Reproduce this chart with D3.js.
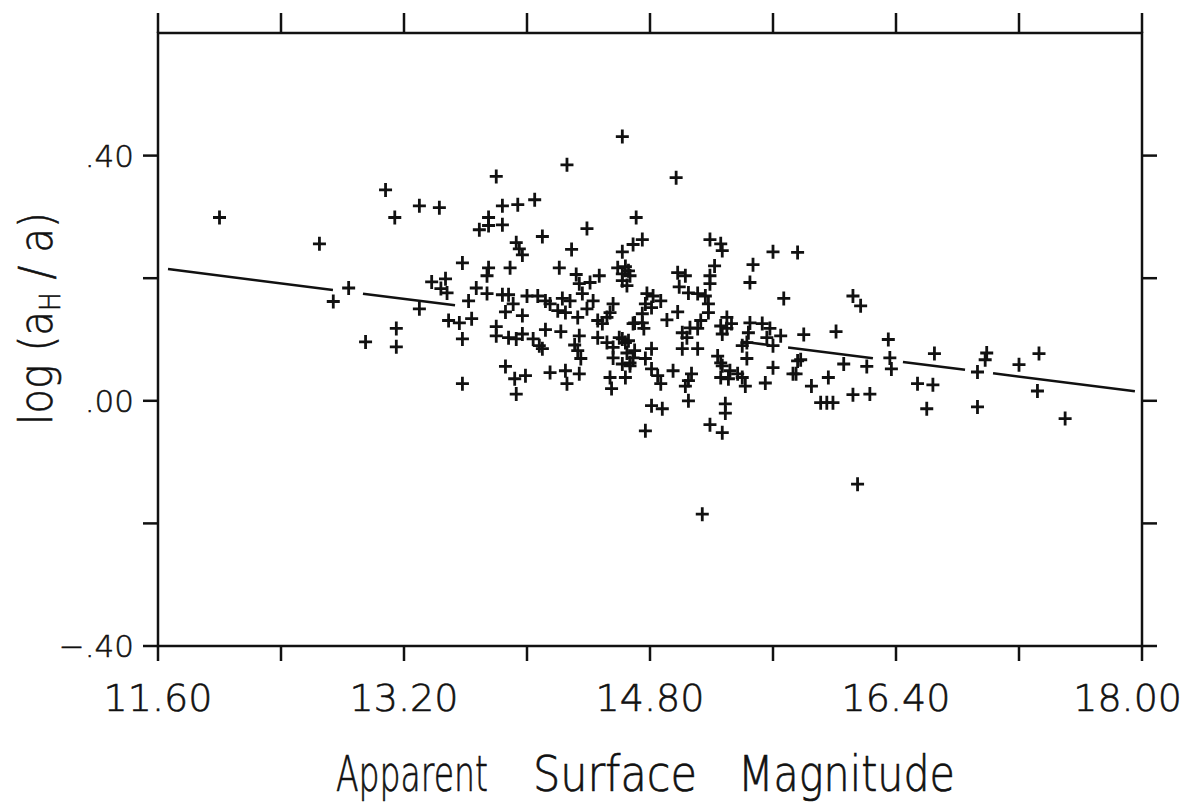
<!DOCTYPE html>
<html>
<head>
<meta charset="utf-8">
<script src="https://cdn.jsdelivr.net/npm/d3@7"></script>
<style>
  body { margin: 0; background: #fff; }
  svg text { font-family: "DejaVu Sans", sans-serif; font-weight: 200; fill: #111; }
</style>
</head>
<body>
<svg id="chart" width="1190" height="803"></svg>
<script>
// apparent surface magnitude (x) and log(aH/a) (y)
const magnitude = [
  12.00, 12.65, 12.74, 12.84, 12.95, 13.08, 13.14, 13.15, 13.15, 13.30,
  13.43, 13.30, 13.38, 13.44, 13.47, 13.48, 13.49, 13.56, 13.64, 13.58,
  13.58, 13.58, 13.62, 13.67, 13.69, 13.75, 13.75, 13.75, 13.74, 13.74,
  13.80, 13.84, 13.84, 13.84, 13.88, 13.94, 14.05, 13.93, 13.95, 13.97,
  13.89, 14.10, 13.91, 13.86, 13.97, 14.00, 14.07, 14.12, 14.15, 14.20,
  14.25, 14.23, 14.28, 13.80, 13.80, 13.88, 13.93, 13.97, 14.04, 14.08,
  14.10, 14.12, 14.22, 13.86, 13.92, 13.99, 13.93, 14.15, 14.25, 14.26,
  14.34, 14.21, 14.26, 14.29, 14.32, 14.34, 14.36, 14.41, 14.47, 14.39,
  14.43, 14.39, 14.33, 14.34, 14.31, 14.33, 14.35, 14.46, 14.52, 14.56,
  14.60, 14.64, 14.65, 14.69, 14.67, 14.56, 14.54, 14.64, 14.55, 14.56,
  14.54, 14.52, 14.49, 14.46, 14.69, 14.62, 14.71, 14.62, 14.69, 14.75,
  14.59, 14.64, 14.66, 14.67, 14.62, 14.65, 14.62, 14.97, 15.19, 15.26,
  15.27, 15.60, 15.76, 15.47, 15.22, 14.98, 15.03, 15.19, 15.19, 15.45,
  14.99, 15.67, 15.05, 15.11, 15.16, 15.18, 15.18, 14.78, 14.82, 14.87,
  14.77, 14.81, 14.75, 14.75, 14.70, 14.76, 14.98, 14.91, 15.13, 15.11,
  15.06, 15.01, 15.04, 15.01, 15.11, 15.30, 15.33, 15.30, 15.26, 15.27,
  15.45, 15.44, 15.53, 15.58, 15.56, 15.65, 15.43, 15.40, 15.60, 15.43,
  15.24, 15.26, 15.27, 15.32, 15.37, 15.40, 15.42, 15.26, 15.31, 15.60,
  15.55, 15.73, 15.76, 14.62, 14.66, 14.70, 14.62, 14.67, 14.77, 14.81,
  14.81, 14.85, 14.87, 14.95, 15.07, 15.05, 15.03, 14.81, 14.88, 15.05,
  15.29, 15.29, 14.77, 15.19, 15.27, 16.15, 15.14, 15.91, 15.95, 15.99,
  16.12, 16.17, 15.80, 16.01, 16.35, 15.78, 16.06, 16.21, 16.36, 16.37,
  16.65, 16.99, 16.98, 16.93, 16.64, 16.60, 16.93, 17.20, 17.33, 17.32,
  17.50, 15.75, 15.96, 16.54, 16.12, 16.23, 15.85
];
const logRatio = [
  0.299, 0.256, 0.162, 0.184, 0.096, 0.344, 0.299, 0.118, 0.088, 0.318,
  0.315, 0.150, 0.194, 0.183, 0.199, 0.176, 0.131, 0.127, 0.134, 0.225,
  0.101, 0.028, 0.163, 0.184, 0.279, 0.286, 0.299, 0.217, 0.204, 0.175,
  0.366, 0.318, 0.287, 0.173, 0.173, 0.320, 0.328, 0.258, 0.248, 0.238,
  0.217, 0.268, 0.158, 0.145, 0.139, 0.171, 0.171, 0.163, 0.158, 0.147,
  0.144, 0.167, 0.163, 0.121, 0.106, 0.103, 0.101, 0.109, 0.101, 0.090,
  0.085, 0.116, 0.113, 0.056, 0.036, 0.041, 0.011, 0.046, 0.049, 0.028,
  0.044, 0.217, 0.385, 0.247, 0.206, 0.191, 0.175, 0.193, 0.204, 0.281,
  0.163, 0.150, 0.136, 0.106, 0.091, 0.082, 0.069, 0.103, 0.095, 0.087,
  0.103, 0.095, 0.078, 0.070, 0.062, 0.070, 0.038, 0.038, 0.020, 0.158,
  0.144, 0.136, 0.126, 0.131, 0.126, 0.431, 0.299, 0.243, 0.255, 0.263,
  0.217, 0.219, 0.212, 0.204, 0.196, 0.188, 0.207, 0.364, 0.263, 0.256,
  0.245, 0.243, 0.242, 0.222, 0.220, 0.209, 0.204, 0.204, 0.191, 0.193,
  0.186, 0.167, 0.176, 0.175, 0.171, 0.158, 0.144, 0.175, 0.171, 0.163,
  0.158, 0.152, 0.142, 0.127, 0.127, 0.118, 0.145, 0.132, 0.131, 0.118,
  0.119, 0.111, 0.103, 0.085, 0.085, 0.136, 0.126, 0.118, 0.122, 0.109,
  0.127, 0.111, 0.126, 0.118, 0.103, 0.106, 0.095, 0.090, 0.090, 0.069,
  0.073, 0.062, 0.057, 0.049, 0.044, 0.038, 0.024, 0.038, 0.036, 0.054,
  0.029, 0.044, 0.065, 0.101, 0.098, 0.082, 0.060, 0.057, 0.069, 0.085,
  0.052, 0.041, 0.028, 0.049, 0.044, 0.033, 0.024, -0.008, -0.013, 0.000,
  -0.005, -0.020, -0.049, -0.039, -0.052, -0.136, -0.185, -0.003, -0.003, -0.003,
  0.171, 0.155, 0.108, 0.113, 0.100, 0.067, 0.060, 0.056, 0.070, 0.052,
  0.077, 0.078, 0.067, 0.047, 0.026, -0.013, -0.010, 0.059, 0.077, 0.016,
  -0.029, 0.044, 0.038, 0.028, 0.010, 0.011, 0.024
];

// fitted regression line, drawn in pieces (plotter left gaps near symbols)
const fitIntercept = 0.217;   // value at x = 11.60
const fitSlope = -0.0317;
const fitPieces = [[11.665, 12.738], [12.933, 13.532], [15.40, 15.58],
                   [15.698, 16.25], [16.445, 16.849], [17.031, 17.954]];

const xMajorTicks = [11.6, 12.4, 13.2, 14.0, 14.8, 15.6, 16.4, 17.2, 18.0];
const xLabelTicks = [11.6, 13.2, 14.8, 16.4, 18.0];
const yMajorTicks = [-0.4, -0.2, 0.0, 0.2, 0.4];
const yLabelTicks = [0.4, 0.0, -0.4];
const yLabelText = [".40", ".00", "\u2212.40"];
const xTitleWords = ['Apparent', 'Surface', 'Magnitude'];

const svg = d3.select('#chart');
const W = 1190;
const plotLeft = 158, plotRight = 1142, plotTop = 33, plotBottom = 646;
const tickLen = 15;

const x = d3.scaleLinear().domain([11.6, 18.0]).range([plotLeft, plotRight]);
const y = d3.scaleLinear().domain([-0.4, 0.6]).range([plotBottom, plotTop]);

// squeeze a text node horizontally to a given width, anchored at its left edge
function fitWidth(sel, width) {
    sel.each(function() {
        const len = this.getComputedTextLength();
        const k = width / len;
        const t = d3.select(this);
        const tx = +t.attr('data-x'), ty = +t.attr('data-y'), rot = +(t.attr('data-rot') || 0);
        t.attr('transform', `translate(${tx},${ty}) rotate(${rot}) scale(${k},1)`);
    });
}

// frame
svg.append('rect')
    .attr('x', plotLeft).attr('y', plotTop)
    .attr('width', plotRight - plotLeft).attr('height', plotBottom - plotTop)
    .attr('fill', 'none').attr('stroke', '#111').attr('stroke-width', 2.5);

// ticks on all four sides, pointing outward
const ticks = svg.append('g').attr('stroke', '#111').attr('stroke-width', 2.5);
xMajorTicks.forEach(t => {
    ticks.append('line').attr('x1', x(t)).attr('x2', x(t)).attr('y1', plotBottom).attr('y2', plotBottom + tickLen);
    ticks.append('line').attr('x1', x(t)).attr('x2', x(t)).attr('y1', plotTop).attr('y2', plotTop - tickLen - 5);
});
yMajorTicks.forEach(t => {
    ticks.append('line').attr('x1', plotLeft).attr('x2', plotLeft - tickLen).attr('y1', y(t)).attr('y2', y(t));
    ticks.append('line').attr('x1', plotRight).attr('x2', plotRight + tickLen).attr('y1', y(t)).attr('y2', y(t));
});

// tick labels (the last one is pulled in so it stays on the page)
const xLab = svg.append('g').selectAll('text')
    .data(xLabelTicks)
    .join('text')
    .attr('y', 711)
    .attr('font-size', 38)
    .attr('stroke', '#111').attr('stroke-width', 0.6)
    .text(d => d3.format('.2f')(d));
xLab.each(function(d) {
    const w = this.getComputedTextLength();
    const cx = Math.min(x(d), W - 8 - w / 2);
    d3.select(this).attr('x', cx - w / 2);
});

svg.append('g').selectAll('text')
    .data(yLabelTicks)
    .join('text')
    .attr('x', 134)
    .attr('y', d => y(d) + 11)
    .attr('text-anchor', 'end')
    .attr('font-size', 31)
    .attr('stroke', '#111').attr('stroke-width', 0.5)
    .text((d, i) => yLabelText[i]);

// axis titles
const wordStarts = [336, 533, 738];
const wordWidths = [152, 164, 217];
const xTitle = svg.append('g').selectAll('text')
    .data(xTitleWords)
    .join('text')
    .attr('data-x', (d, i) => wordStarts[i])
    .attr('data-y', 791)
    .attr('font-size', 50)
    .attr('stroke', '#111').attr('stroke-width', 0.7)
    .text(d => d);
xTitle.each(function(d, i) { fitWidth(d3.select(this), wordWidths[i]); });

const yTitle = svg.append('text')
    .attr('data-x', 52).attr('data-y', 425).attr('data-rot', -90)
    .attr('font-size', 46)
    .attr('stroke', '#111').attr('stroke-width', 0.6);
yTitle.append('tspan').text('log (a');
yTitle.append('tspan').attr('font-size', 28).attr('dy', 8).text('H');
yTitle.append('tspan').attr('dy', -8).text(' / a)');
fitWidth(yTitle, 213);

// regression line pieces
svg.append('g').selectAll('line')
    .data(fitPieces)
    .join('line')
    .attr('x1', d => x(d[0]))
    .attr('x2', d => x(d[1]))
    .attr('y1', d => y(fitIntercept + fitSlope * (d[0] - 11.6)))
    .attr('y2', d => y(fitIntercept + fitSlope * (d[1] - 11.6)))
    .attr('stroke', '#111')
    .attr('stroke-width', 2.5);

// plus markers
const pts = magnitude.map((m, i) => ({ m: m, v: logRatio[i] }));
const marks = svg.append('g').attr('stroke', '#111').attr('stroke-width', 2.8);
marks.selectAll('path')
    .data(pts)
    .join('path')
    .attr('d', d => {
        const cx = x(d.m), cy = y(d.v);
        return `M${cx - 6.5},${cy}H${cx + 6.5}M${cx},${cy - 7}V${cy + 7}`;
    });
</script>
</body>
</html>
